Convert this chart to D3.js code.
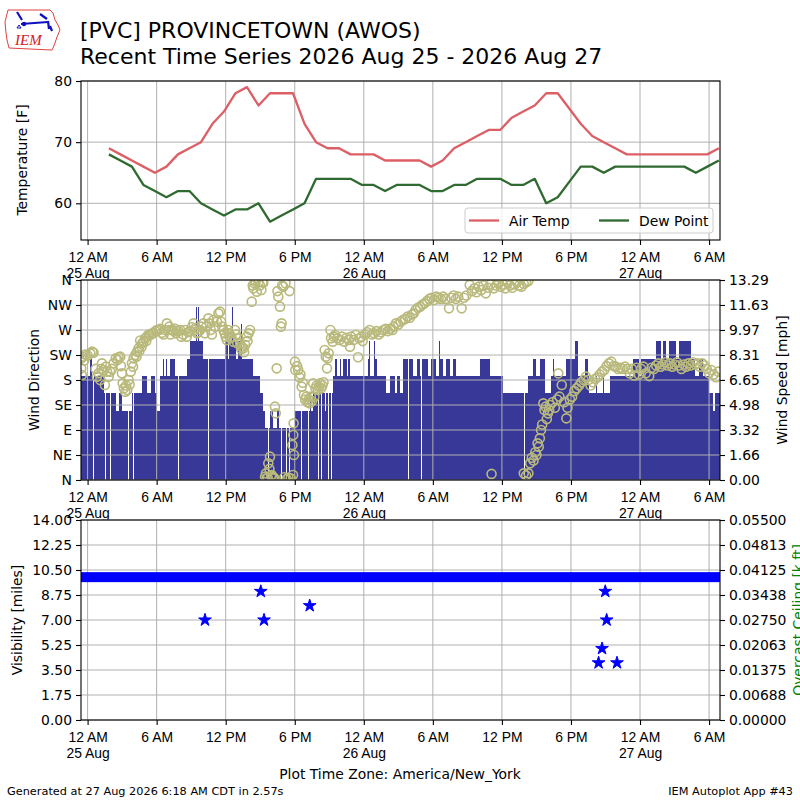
<!DOCTYPE html>
<html><head><meta charset="utf-8">
<script src="https://cdn.jsdelivr.net/npm/d3@7"></script>
<style>body{margin:0;background:#fff}svg{display:block;font-family:"DejaVu Sans",sans-serif}</style>
</head><body><svg id="c" width="800" height="800"></svg>
<script>
// ---------- DATA (hours since 25 Aug 00:00 America/New_York) ----------
const xDomain = [-0.573, 54.95];
const xTickHours = [0,6,12,18,24,30,36,42,48,54];
const xTickNames = ["12 AM","6 AM","12 PM","6 PM"];
const dayNames = ["25 Aug","26 Aug","27 Aug"];
const tempFirstObs = 1.85; // first hourly report ~01:51
const airTemp = [69,68,67,66,65,66,68,69,70,73,75,78,79,76,78,78,78,73,70,69,69,68,68,
  68,67,67,67,67,66,67,69,70,71,72,72,74,75,76,78,78,75.5,73,71,70,69,68,68,
  68,68,68,68,68,68,69];
const dewPoint = [68,67,66,63,62,61,62,62,60,59,58,59,59,60,57,58,59,60,64,64,64,64,63,
  63,62,63,63,63,62,62,63,63,64,64,64,63,63,64,60,61,63.5,66,66,65,66,66,66,
  66,66,66,66,65,66,67];
const tempTicks = [60,70,80];
// wind speed, knots: [start hour, speed]
const windSpeed = [[-0.6,6],[0.2,7],[0.4,6],[0.49,0],[0.56,6],[1.39,5],[1.52,0],[1.58,5],[1.95,0],[2.01,5],[2.5,4],[2.69,5],[2.98,4],[3.12,0],[3.18,4],[3.4,0],[3.46,4],[3.55,0],[3.61,4],[3.85,5],[3.98,0],[4.04,5],[4.72,6],[5.15,5],[5.55,6],[5.85,5],[6.02,4],[6.31,6],[6.58,7],[6.66,6],[6.8,7],[6.88,6],[7.17,7],[7.61,6],[7.88,0],[7.94,6],[8.62,7],[8.91,8],[9.4,10],[9.47,8],[9.6,10],[9.66,8],[9.9,7],[9.98,8],[10.07,7],[10.48,0],[10.54,7],[11.95,8],[12.2,7],[12.3,8],[12.56,10],[12.62,8],[12.9,7],[13.05,8],[13.36,9],[13.42,7],[14.4,6],[14.98,5],[15.22,4],[15.42,3],[15.69,0],[15.75,3],[15.85,4],[16.1,3],[16.26,0],[16.32,3],[16.43,4],[16.65,3],[16.84,0],[16.9,3],[17.28,0],[17.34,3],[17.5,0],[17.56,3],[18.02,4],[18.58,0],[18.64,4],[19.16,0],[19.22,4],[19.32,5],[19.45,4],[19.61,5],[20.02,0],[20.08,5],[20.31,0],[20.37,5],[20.6,4],[20.7,5],[20.89,0],[20.95,5],[21.18,0],[21.24,5],[21.34,6],[21.5,7],[21.7,6],[21.92,7],[22.05,6],[22.21,7],[22.5,6],[22.6,7],[22.79,6],[23.65,0],[23.71,6],[24.38,7],[24.48,8],[24.58,6],[24.9,8],[24.98,7],[25.11,6],[25.97,5],[26.26,6],[26.7,5],[26.9,6],[27.13,5],[27.42,7],[27.88,0],[27.94,7],[28.29,6],[28.6,7],[28.9,6],[28.98,0],[29.04,7],[29.28,8],[29.34,7],[29.6,6],[29.8,7],[30.06,8],[30.12,7],[30.3,6],[30.53,8],[30.6,7],[30.9,6],[31.18,7],[31.5,6],[31.76,7],[32.0,6],[33.2,0],[33.26,6],[34.07,7],[34.93,6],[35.81,6],[36.1,5],[36.93,6],[37.0,5],[37.38,0],[37.44,5],[37.95,0],[38.01,5],[38.26,6],[38.7,7],[38.99,6],[39.28,7],[39.71,5],[40.29,6],[40.43,7],[40.5,6],[41.59,7],[42.31,8],[42.6,6],[43.18,7],[43.47,6],[43.61,5],[44.19,6],[44.3,5],[44.77,6],[44.9,5],[45.35,6],[46.5,0],[46.56,6],[47.38,7],[47.95,6],[48.1,7],[49.4,8],[49.8,7],[50.0,8],[50.27,7],[50.5,8],[51.1,7],[51.42,8],[52.44,7],[52.8,6],[53.15,7],[53.5,6],[54.03,5],[54.3,4],[54.5,5]];
const KT_TO_MPH = 1.15078;
// wind direction, degrees: [hour, direction]
const windDir = [[-0.55,219],[-0.55,201],[-0.5,189],[-0.4,222],[-0.3,215],[-0.2,226],[0.0,224],[0.23,228],[0.4,231],[0.52,229],[0.7,200],[0.81,186],[0.95,192],[1.1,180],[1.2,200],[1.25,210],[1.39,198],[1.5,171],[1.6,204],[1.7,195],[1.83,186],[1.97,195],[2.1,200],[2.26,210],[2.45,219],[2.6,216],[2.69,221],[2.84,222],[2.9,205],[2.98,192],[3.05,174],[3.15,165],[3.27,159],[3.35,170],[3.45,162],[3.56,180],[3.65,172],[3.75,195],[3.85,210],[3.95,204],[4.0,219],[4.14,225],[4.25,222],[4.3,231],[4.43,237],[4.5,232],[4.57,251],[4.7,240],[4.75,246],[4.86,249],[5.0,255],[5.1,250],[5.15,258],[5.3,262],[5.44,261],[5.6,264],[5.73,264],[5.9,268],[6.02,270],[6.2,270],[6.31,272],[6.45,265],[6.6,262],[6.75,270],[6.89,282],[7.0,270],[7.1,276],[7.2,262],[7.35,270],[7.47,268],[7.6,272],[7.7,264],[7.9,268],[8.04,270],[8.15,258],[8.3,262],[8.45,270],[8.62,258],[8.75,266],[8.9,268],[9.05,275],[9.2,282],[9.3,270],[9.4,274],[9.5,264],[9.6,266],[9.78,270],[9.9,276],[10.07,282],[10.2,264],[10.3,276],[10.5,291],[10.6,282],[10.7,270],[10.8,262],[10.94,288],[11.1,276],[11.25,285],[11.37,300],[11.51,303],[11.6,285],[11.7,276],[11.8,270],[11.9,264],[12.0,258],[12.09,252],[12.2,270],[12.3,264],[12.4,255],[12.5,258],[12.67,249],[12.8,270],[12.9,262],[13.0,246],[13.1,255],[13.25,246],[13.35,236],[13.4,240],[13.54,237],[13.6,230],[13.7,243],[13.83,258],[13.9,250],[14.0,264],[14.12,270],[14.26,321],[14.35,350],[14.4,345],[14.5,354],[14.6,357],[14.7,339],[14.85,357],[14.98,350],[15.1,342],[15.2,356],[15.27,355],[15.42,6],[15.5,12],[15.56,3],[15.65,4],[15.7,30],[15.8,20],[15.85,42],[15.95,8],[16.0,9],[16.1,3],[16.14,5],[16.2,4],[16.28,132],[16.35,120],[16.43,201],[16.5,340],[16.57,330],[16.72,312],[16.8,276],[16.86,282],[16.9,350],[17.01,348],[17.1,5],[17.2,354],[17.3,2],[17.45,4],[17.55,340],[17.65,3],[17.8,63],[17.85,9],[17.87,81],[17.9,102],[17.93,45],[18.02,213],[18.05,198],[18.2,205],[18.3,198],[18.4,185],[18.5,190],[18.6,168],[18.7,175],[18.8,153],[18.9,145],[19.0,150],[19.1,140],[19.2,145],[19.3,138],[19.4,150],[19.5,142],[19.6,174],[19.7,150],[19.8,165],[19.9,170],[20.0,162],[20.1,168],[20.2,174],[20.3,165],[20.4,170],[20.5,176],[20.6,234],[20.7,222],[20.8,201],[20.85,219],[20.95,228],[21.1,270],[21.15,255],[21.3,249],[21.4,258],[21.5,261],[21.7,255],[21.9,252],[22.1,258],[22.3,249],[22.5,256],[22.7,252],[22.8,240],[22.9,258],[23.1,252],[23.3,261],[23.5,221],[23.6,255],[23.8,258],[23.9,250],[24.1,262],[24.3,266],[24.5,270],[24.7,262],[24.9,264],[25.1,268],[25.3,262],[25.5,266],[25.7,270],[25.9,272],[26.1,268],[26.3,272],[26.5,270],[26.6,276],[26.8,282],[27.0,280],[27.2,285],[27.4,288],[27.6,290],[27.8,294],[28.0,292],[28.2,298],[28.35,300],[28.5,306],[28.7,310],[28.9,312],[29.1,316],[29.3,318],[29.5,322],[29.7,326],[29.9,328],[30.1,324],[30.3,330],[30.5,328],[30.7,326],[30.9,330],[31.1,326],[31.4,309],[31.6,328],[31.8,332],[32.0,326],[32.2,330],[32.5,309],[32.7,328],[32.9,332],[33.2,351],[33.4,340],[33.6,345],[33.8,338],[34.0,348],[34.2,342],[34.4,350],[34.6,336],[34.8,346],[35.0,352],[35.1,11],[35.3,345],[35.5,350],[35.7,354],[35.9,348],[36.1,352],[36.3,345],[36.5,355],[36.7,350],[36.9,346],[37.1,352],[37.3,356],[37.5,350],[37.7,348],[37.9,353],[38.1,356],[38.3,358],[37.9,12],[38.1,8],[38.3,12],[38.45,30],[38.6,40],[38.75,35],[38.9,50],[39.0,45],[39.1,66],[39.2,60],[39.3,75],[39.4,90],[39.5,100],[39.6,138],[39.7,126],[39.8,132],[39.9,110],[40.0,120],[40.1,126],[40.2,135],[40.4,140],[40.6,130],[40.8,145],[40.9,192],[41.0,150],[41.2,171],[41.4,140],[41.6,111],[41.7,130],[41.9,145],[42.1,150],[42.3,160],[42.5,165],[42.7,170],[42.9,176],[43.1,180],[43.3,186],[43.5,180],[43.7,170],[43.9,176],[44.1,182],[44.3,185],[44.5,190],[44.7,195],[44.9,198],[45.1,205],[45.3,210],[45.5,213],[45.7,205],[45.9,204],[46.1,200],[46.3,202],[46.5,200],[46.7,204],[46.9,200],[47.1,192],[47.3,200],[47.5,188],[47.7,202],[47.9,190],[48.1,200],[48.3,204],[48.5,192],[48.8,187],[49.0,202],[49.2,200],[49.4,206],[49.6,210],[49.8,204],[50.0,208],[50.2,212],[50.4,206],[50.6,210],[50.8,204],[51.0,208],[51.2,212],[51.4,206],[51.6,200],[51.8,208],[52.0,204],[52.2,210],[52.4,206],[52.6,212],[52.8,208],[53.0,210],[53.2,204],[53.4,210],[53.6,206],[53.8,200],[54.0,192],[54.2,198],[54.4,190],[54.6,185],[54.8,195]];
const dirTicks = [0,45,90,135,180,225,270,315,360];
const dirNames = ["N","NE","E","SE","S","SW","W","NW","N"];
const speedMax = 13.29;
const speedTicks = [0,1.66,3.32,4.98,6.65,8.31,9.97,11.63,13.29];
// visibility, miles
const visSteady = [[-0.573, 54.95, 10]]; // continuous 10 mile reports: [from, to, value]
const visObs = [[10.2,7],[15.05,9],[15.33,7],[19.3,8],[44.4,4],[44.7,5],[44.98,9],[45.1,7],[46.0,4]];
const visTicks = [0,1.75,3.5,5.25,7,8.75,10.5,12.25,14];
const ceilTicks = ["0.00000","0.00688","0.01375","0.02063","0.02750","0.03438","0.04125","0.04813","0.05500"];
const ceilMax = 0.055;

// ---------- LAYOUT ----------
const L = 81, R = 720;
const svg = d3.select("#c");
const FS = 13.9;
const x = d3.scaleLinear().domain(xDomain).range([L, R]);
const panels = [{top:81,bot:240},{top:280,bot:480},{top:520,bot:720}];
const grid = "#b0b0b0";

function panelBg(p){
  svg.append("rect").attr("x",L).attr("y",p.top).attr("width",R-L).attr("height",p.bot-p.top).attr("fill","#fff");
}
function clip(id,p){
  svg.append("clipPath").attr("id",id).append("rect").attr("x",L).attr("y",p.top).attr("width",R-L).attr("height",p.bot-p.top);
}
function xgrid(g,p){
  g.selectAll(null).data(xTickHours).join("line").attr("x1",d=>x(d)).attr("x2",d=>x(d))
   .attr("y1",p.top).attr("y2",p.bot).attr("stroke",grid).attr("stroke-width",1);
}
function ygrid(g,p,y,ticks){
  g.selectAll(null).data(ticks).join("line").attr("x1",L).attr("x2",R)
   .attr("y1",d=>y(d)).attr("y2",d=>y(d)).attr("stroke",grid).attr("stroke-width",1);
}
function frame(p){
  svg.append("rect").attr("x",L).attr("y",p.top).attr("width",R-L).attr("height",p.bot-p.top)
   .attr("fill","none").attr("stroke","#000").attr("stroke-width",1.1);
}
function xaxis(p){
  const ax = d3.axisBottom(x).tickValues(xTickHours).tickSize(5).tickPadding(5).tickFormat("");
  const g = svg.append("g").attr("transform",`translate(0,${p.bot})`).call(ax);
  g.select(".domain").remove();
  g.selectAll(".tick line").attr("stroke","#000").attr("stroke-width",1.1);
  const t = g.selectAll(".tick").append("text").attr("fill","#000").attr("font-size",FS).attr("text-anchor","middle");
  t.append("tspan").attr("x",0).attr("y",21.5).text(d=>xTickNames[(d%24)/6]);
  t.filter(d=>d%24===0).append("tspan").attr("x",0).attr("y",38.2).text(d=>dayNames[d/24]);
}
function yaxisLeft(y,ticks,fmt){
  const g = svg.append("g").attr("transform",`translate(${L},0)`).call(d3.axisLeft(y).tickValues(ticks).tickSize(5).tickPadding(4).tickFormat(fmt));
  g.select(".domain").remove();
  g.selectAll(".tick line").attr("stroke","#000").attr("stroke-width",1.1);
  g.selectAll(".tick text").attr("font-size",FS).attr("fill","#000").attr("font-family","DejaVu Sans");
}
function yaxisRight(y,ticks,fmt){
  const g = svg.append("g").attr("transform",`translate(${R},0)`).call(d3.axisRight(y).tickValues(ticks).tickSize(5).tickPadding(4).tickFormat(fmt));
  g.select(".domain").remove();
  g.selectAll(".tick line").attr("stroke","#000").attr("stroke-width",1.1);
  g.selectAll(".tick text").attr("font-size",FS).attr("fill","#000").attr("font-family","DejaVu Sans");
}
function ylabel(txt,xp,yc,color){
  svg.append("text").attr("transform",`translate(${xp},${yc}) rotate(-90)`).attr("text-anchor","middle")
   .attr("font-size",FS).attr("fill",color||"#000").text(txt);
}

// ---------- TEMPERATURE PANEL ----------
{
  const p = panels[0];
  panelBg(p); clip("c0",p);
  const y = d3.scaleLinear().domain([54,80]).range([p.bot,p.top]);
  const g = svg.append("g");
  xgrid(g,p); ygrid(g,p,y,tempTicks);
  const line = d3.line().x((d,i)=>x(tempFirstObs+i)).y(d=>y(d));
  const m = svg.append("g").attr("clip-path","url(#c0)");
  m.append("path").attr("d",line(airTemp)).attr("fill","none").attr("stroke","#dc5f66").attr("stroke-width",2.3).attr("stroke-linejoin","round");
  m.append("path").attr("d",line(dewPoint)).attr("fill","none").attr("stroke","#2f6a30").attr("stroke-width",2.3).attr("stroke-linejoin","round");
  frame(p);
  xaxis(p);
  yaxisLeft(y,tempTicks,d=>d);
  ylabel("Temperature [F]",27,160);
  // legend
  const lg = svg.append("g");
  lg.append("rect").attr("x",465).attr("y",208).attr("width",248).attr("height",25).attr("rx",3)
    .attr("fill","#fff").attr("fill-opacity",0.8).attr("stroke","#cccccc").attr("stroke-width",1);
  const items = [{n:"Air Temp",c:"#dc5f66",x:469},{n:"Dew Point",c:"#2f6a30",x:599}];
  items.forEach(it=>{
    lg.append("line").attr("x1",it.x).attr("x2",it.x+30).attr("y1",220.5).attr("y2",220.5).attr("stroke",it.c).attr("stroke-width",2.3);
    lg.append("text").attr("x",it.x+40).attr("y",225.5).attr("font-size",FS).text(it.n);
  });
}

// ---------- WIND PANEL ----------
{
  const p = panels[1];
  panelBg(p); clip("c1",p);
  const yd = d3.scaleLinear().domain([0,360]).range([p.bot,p.top]);
  const ys = d3.scaleLinear().domain([0,speedMax]).range([p.bot,p.top]);
  const m = svg.append("g").attr("clip-path","url(#c1)");
  m.selectAll(null).data(windSpeed).join("rect")
    .attr("x",d=>x(d[0]))
    .attr("width",(d,i)=>{const e = i<windSpeed.length-1?windSpeed[i+1][0]:xDomain[1]; return Math.max(0,x(e)-x(d[0]));})
    .attr("y",d=>ys(d[1]*KT_TO_MPH)).attr("height",d=>p.bot-ys(d[1]*KT_TO_MPH))
    .attr("fill","#383898").attr("shape-rendering","crispEdges");
  const g = svg.append("g");
  xgrid(g,p); ygrid(g,p,yd,dirTicks);
  const c = svg.append("g").attr("clip-path","url(#c1)");
  c.selectAll(null).data(windDir).join("circle").attr("cx",d=>x(d[0])).attr("cy",d=>yd(d[1])).attr("r",4.5)
    .attr("fill","none").attr("stroke","#b9b97c").attr("stroke-width",1.6);
  frame(p);
  xaxis(p);
  yaxisLeft(yd,dirTicks,(d,i)=>dirNames[i]);
  yaxisRight(ys,speedTicks,d=>d.toFixed(2));
  ylabel("Wind Direction",39,380);
  ylabel("Wind Speed [mph]",787,380);
}

// ---------- VISIBILITY PANEL ----------
{
  const p = panels[2];
  panelBg(p); clip("c2",p);
  const yv = d3.scaleLinear().domain([0,14]).range([p.bot,p.top]);
  const yc = d3.scaleLinear().domain([0,ceilMax]).range([p.bot,p.top]);
  const g = svg.append("g");
  xgrid(g,p); ygrid(g,p,yv,visTicks);
  const m = svg.append("g").attr("clip-path","url(#c2)");
  m.selectAll(null).data(visSteady).join("rect")
    .attr("x",d=>x(d[0])-5).attr("width",d=>x(d[1])-x(d[0])+10)
    .attr("y",d=>yv(d[2])-5).attr("height",10).attr("fill","#0000ff");
  const star = d3.symbol(d3.symbolStar,50);
  m.selectAll(null).data(visObs).join("path").attr("d",star())
    .attr("transform",d=>`translate(${x(d[0])},${yv(d[1])})`).attr("fill","#0000ff")
    .attr("stroke","#0000ff").attr("stroke-width",1).attr("stroke-linejoin","round");
  frame(p);
  xaxis(p);
  yaxisLeft(yv,visTicks,d=>d.toFixed(2));
  yaxisRight(yc,ceilTicks.map(Number),(d,i)=>ceilTicks[i]);
  ylabel("Visibility [miles]",22,620);
  ylabel("Overcast Ceiling [k ft]",803,620,"#008000");
}

// ---------- TITLES / FOOTER ----------
svg.append("text").attr("x",80).attr("y",37.5).attr("font-size",22).text("[PVC] PROVINCETOWN (AWOS)");
svg.append("text").attr("x",80).attr("y",63.5).attr("font-size",22).text("Recent Time Series 2026 Aug 25 - 2026 Aug 27");
svg.append("text").attr("x",400).attr("y",779).attr("text-anchor","middle").attr("font-size",FS).text("Plot Time Zone: America/New_York");
svg.append("text").attr("x",7).attr("y",795).attr("font-size",11.3).text("Generated at 27 Aug 2026 6:18 AM CDT in 2.57s");
svg.append("text").attr("x",793).attr("y",795).attr("text-anchor","end").attr("font-size",11.3).text("IEM Autoplot App #43");

// logo
{
  const lg = svg.append("g");
  lg.append("path").attr("d","M8,10 L50,10 L53,13 L55,20 L58,25 L60,30 L57,37 L55,43 L53,48 L52,50 L30,49 L9,48 L7,40 L6,33 L5,22 L7,14 Z")
    .attr("fill","none").attr("stroke","#e04040").attr("stroke-width",1);
  lg.append("path").attr("d","M21,24 L48,22").attr("stroke","#1010c0").attr("stroke-width",2);
  lg.append("path").attr("d","M17,12 L22,20 M40,14 L47,19 M48,21 L49,29 M50,26 L52,31").attr("stroke","#1010c0").attr("stroke-width",2.2).attr("fill","none");
  lg.append("circle").attr("cx",24).attr("cy",24).attr("r",2.2).attr("fill","#1010c0");
  lg.append("path").attr("d","M19,25 L21,28 L17,28 Z").attr("fill","none").attr("stroke","#1010c0");
  lg.append("text").attr("x",15).attr("y",45).attr("font-family","Liberation Serif").attr("font-style","italic").attr("font-size",15).attr("fill","#d42020").text("IEM");
}
</script></body></html>
